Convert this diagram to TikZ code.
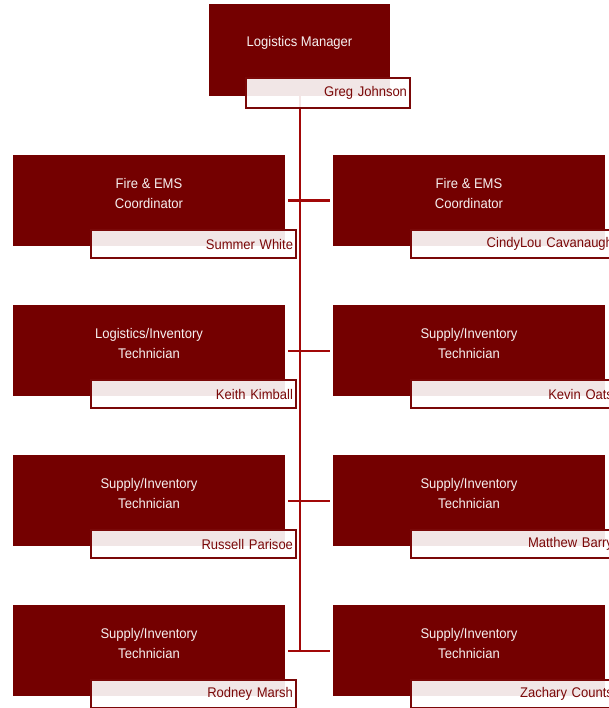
\documentclass[tikz,border=0pt]{standalone}
\usepackage{fontspec}
\setmainfont{Liberation Sans}[FakeStretch=0.93]
\usetikzlibrary{positioning,backgrounds}

\definecolor{boxred}{RGB}{116,0,0}
\definecolor{linkred}{RGB}{162,8,8}
\definecolor{namered}{RGB}{122,8,8}

\begin{document}
\begin{tikzpicture}[x=1pt,y=-1pt,
  posbox/.style={fill=boxred,draw=none,inner sep=0pt,anchor=north west,minimum width=272pt,minimum height=91pt},
  postitle/.style={text=white!94!boxred,align=center,inner sep=0pt,font=\fontsize{14pt}{20pt}\selectfont},
  namebox/.style={draw=namered,line width=2pt,fill=white,fill opacity=0.9,text opacity=1,text=namered,
    anchor=north west,inner xsep=3pt,inner ysep=0pt,minimum height=28pt,text width=199pt,align=right,
    font=\fontsize{14pt}{16pt}\selectfont},
  link/.style={draw=linkred,line width=2.4pt},
  branch/.style={link,shorten <=3pt,shorten >=3pt}]
  \path[use as bounding box,clip] (0,0) rectangle (609,708);

  % manager
  \node[posbox,minimum width=181pt,minimum height=92pt] (mgr) at (209,4) {};
  \node[postitle] (mgrtitle) at (299.5,43) {Logistics Manager};
  \node[namebox,text width=158pt,minimum height=30pt] (mgrname) at (245,77) {Greg Johnson};

  % left column
  \node[posbox] (l1) at (13,155) {};
  \node[postitle] (l1title) at (149,193) {Fire \& EMS\\Coordinator};
  \node[namebox] (l1name) at (90,229) {Summer White};
  \node[posbox] (l2) at (13,305) {};
  \node[postitle] (l2title) at (149,343) {Logistics/Inventory\\Technician};
  \node[namebox] (l2name) at (90,379) {Keith Kimball};
  \node[posbox] (l3) at (13,455) {};
  \node[postitle] (l3title) at (149,493) {Supply/Inventory\\Technician};
  \node[namebox] (l3name) at (90,529) {Russell Parisoe};
  \node[posbox] (l4) at (13,605) {};
  \node[postitle] (l4title) at (149,643) {Supply/Inventory\\Technician};
  \node[namebox] (l4name) at (90,679) {Rodney Marsh};

  % right column
  \node[posbox] (r1) at (333,155) {};
  \node[postitle] (r1title) at (469,193) {Fire \& EMS\\Coordinator};
  \node[namebox] (r1name) at (410,229) {CindyLou Cavanaugh};
  \node[posbox] (r2) at (333,305) {};
  \node[postitle] (r2title) at (469,343) {Supply/Inventory\\Technician};
  \node[namebox] (r2name) at (410,379) {Kevin Oats};
  \node[posbox] (r3) at (333,455) {};
  \node[postitle] (r3title) at (469,493) {Supply/Inventory\\Technician};
  \node[namebox] (r3name) at (410,529) {Matthew Barry};
  \node[posbox] (r4) at (333,605) {};
  \node[postitle] (r4title) at (469,643) {Supply/Inventory\\Technician};
  \node[namebox] (r4name) at (410,679) {Zachary Counts};

  % reporting lines
  \begin{scope}[on background layer]
    \draw[link] (mgr.center) -- ([yshift=1pt]mgr.center |- l4.east);
    \draw[branch] (l1.east) -- (r1.west);
    \draw[branch] (l2.east) -- (r2.west);
    \draw[branch] (l3.east) -- (r3.west);
    \draw[branch] (l4.east) -- (r4.west);
  \end{scope}
\end{tikzpicture}
\end{document}
